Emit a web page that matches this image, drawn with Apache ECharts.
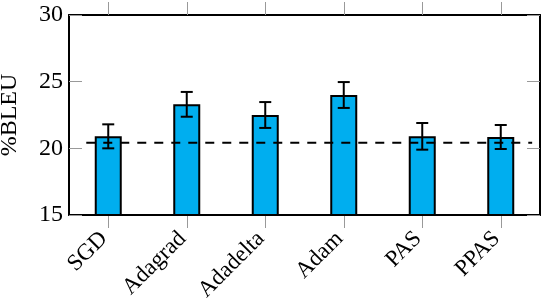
<!DOCTYPE html>
<html><head><meta charset="utf-8">
<script src="https://cdn.jsdelivr.net/npm/echarts@6/dist/echarts.min.js"></script>
<style>html,body{margin:0;padding:0;background:#fff}#c{width:542px;height:306px}</style>
</head><body><div id="c"></div>
<script>
const categories = ['SGD', 'Adagrad', 'Adadelta', 'Adam', 'PAS', 'PPAS'];
const bleu = [20.9, 23.3, 22.5, 24.0, 20.9, 20.85];
const errors = [0.9, 0.93, 0.97, 0.97, 1.0, 0.9];
const baseline = 20.42;
const baselineSpan = [-0.28, 5.4];
const yTicks = [15, 20, 25, 30];

const FONT = 'Liberation Serif';
const chart = echarts.init(document.getElementById('c'), null, {renderer: 'canvas'});
const tickStyle = {color: '#999', width: 1};
chart.setOption({
  animation: false,
  grid: {left: 69, right: 2, top: 15, bottom: 91, containLabel: false, outerBoundsMode: 'none'},
  xAxis: [
    {type: 'category', data: categories, position: 'bottom',
     axisLine: {onZero: false, lineStyle: {color: '#000', width: 2}},
     axisTick: {show: true, alignWithLabel: true, length: 13, lineStyle: tickStyle},
     axisLabel: {rotate: 45, margin: 16, padding: [0, 6, 0, 0], fontFamily: FONT, fontSize: 23, color: '#000'}},
    {type: 'category', data: categories, position: 'top',
     axisLine: {onZero: false, lineStyle: {color: '#000', width: 2}},
     axisTick: {show: true, alignWithLabel: true, length: 13, lineStyle: tickStyle},
     axisLabel: {show: false}},
    {type: 'value', min: -0.5, max: 5.5, show: false}
  ],
  yAxis: [
    {type: 'value', min: yTicks[0], max: yTicks[yTicks.length - 1], interval: 5, position: 'left',
     name: '%BLEU', nameLocation: 'middle', nameGap: 47,
     nameTextStyle: {fontFamily: FONT, fontSize: 24, color: '#000'},
     splitLine: {show: false},
     axisLine: {show: true, onZero: false, lineStyle: {color: '#000', width: 2}},
     axisTick: {show: true, inside: true, length: 13, lineStyle: tickStyle},
     axisLabel: {margin: 6, fontFamily: FONT, fontSize: 24, color: '#000'}},
    {type: 'value', min: yTicks[0], max: yTicks[yTicks.length - 1], interval: 5, position: 'right',
     splitLine: {show: false},
     axisLine: {show: true, onZero: false, lineStyle: {color: '#000', width: 2}},
     axisTick: {show: true, inside: true, length: 13, lineStyle: tickStyle},
     axisLabel: {show: false}}
  ],
  series: [
    {type: 'bar', data: bleu, barWidth: 27, xAxisIndex: 0, yAxisIndex: 0,
     itemStyle: {color: '#00AEEF', borderColor: '#000', borderWidth: 2}, z: 2},
    {type: 'custom', xAxisIndex: 0, yAxisIndex: 0, z: 4,
     data: bleu.map((v, i) => [i, v - errors[i], v + errors[i]]),
     renderItem: function (params, api) {
       const lo = api.coord([api.value(0), api.value(1)]);
       const hi = api.coord([api.value(0), api.value(2)]);
       const hw = 6;
       const st = {stroke: '#000', lineWidth: 2};
       return {type: 'group', children: [
         {type: 'line', shape: {x1: lo[0], y1: lo[1], x2: hi[0], y2: hi[1]}, style: st},
         {type: 'line', shape: {x1: lo[0] - hw, y1: lo[1], x2: lo[0] + hw, y2: lo[1]}, style: st},
         {type: 'line', shape: {x1: hi[0] - hw, y1: hi[1], x2: hi[0] + hw, y2: hi[1]}, style: st}
       ]};
     }},
    {type: 'line', xAxisIndex: 2, yAxisIndex: 0, z: 3, symbol: 'none',
     data: [[baselineSpan[0], baseline], [baselineSpan[1], baseline]],
     lineStyle: {color: '#000', width: 2, type: [9, 8]}}
  ]
});
</script></body></html>
